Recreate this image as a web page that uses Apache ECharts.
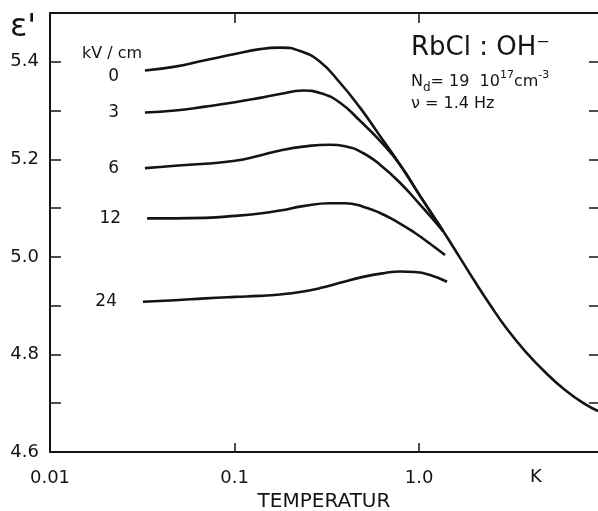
<!DOCTYPE html>
<html><head><meta charset="utf-8">
<script src="https://cdn.jsdelivr.net/npm/echarts@6/dist/echarts.min.js"></script>
<style>html,body{margin:0;padding:0;background:#fff}#c{width:598px;height:511px}</style>
</head><body><div id="c"></div>
<script>
// Field strengths (kV/cm)
const fieldLabels = ['0', '3', '6', '12', '24'];
// Temperature (K) and epsilon' per curve
const t0 = [0.0327, 0.0476, 0.0692, 0.1006, 0.1375, 0.1765, 0.2265, 0.2907, 0.3731, 0.4788, 0.6145, 0.7888, 1.013, 1.350, 1.668, 2.011, 2.425, 2.999, 3.753, 4.819, 6.185, 7.939, 9.338];
const v0 = [5.382, 5.390, 5.403, 5.416, 5.426, 5.429, 5.422, 5.400, 5.357, 5.306, 5.248, 5.189, 5.125, 5.053, 4.998, 4.949, 4.902, 4.852, 4.807, 4.764, 4.727, 4.698, 4.684];
const t3 = [0.0327, 0.0476, 0.0692, 0.1006, 0.1375, 0.1765, 0.2350, 0.2907, 0.3731, 0.4788, 0.6145, 0.7888, 1.013, 1.350];
const v3 = [5.296, 5.300, 5.308, 5.317, 5.326, 5.334, 5.341, 5.336, 5.316, 5.279, 5.238, 5.189, 5.125, 5.053];
const t6 = [0.0327, 0.0476, 0.0692, 0.1006, 0.1375, 0.1765, 0.2350, 0.3293, 0.3970, 0.4972, 0.6145, 0.7888, 1.013, 1.350];
const v6 = [5.182, 5.187, 5.191, 5.197, 5.208, 5.218, 5.226, 5.230, 5.227, 5.213, 5.189, 5.152, 5.107, 5.053];
const t12 = [0.0336, 0.0476, 0.0692, 0.1006, 0.1375, 0.1765, 0.2350, 0.3293, 0.3970, 0.4972, 0.6145, 0.7600, 0.9513, 1.147, 1.383];
const v12 = [5.079, 5.079, 5.080, 5.084, 5.089, 5.095, 5.104, 5.110, 5.110, 5.103, 5.090, 5.072, 5.049, 5.027, 5.004];
const t24 = [0.0319, 0.0476, 0.0692, 0.1006, 0.1375, 0.1765, 0.2265, 0.2907, 0.3731, 0.4972, 0.6543, 0.7888, 0.9513, 1.147, 1.418];
const v24 = [4.908, 4.911, 4.915, 4.918, 4.920, 4.923, 4.928, 4.936, 4.947, 4.959, 4.967, 4.970, 4.969, 4.963, 4.949];
// Axis ticks and tick labels
const xTickValues = [0.1, 1];
const xLabelValues = [0.01, 0.1, 1];
const xTickLabels = { '0.01': '0.01', '0.1': '0.1', '1': '1.0' };
const yTickLabels = ['4.6', '4.8', '5.0', '5.2', '5.4'];

const curves = [[t0, v0], [t3, v3], [t6, v6], [t12, v12], [t24, v24]];
const labelOffsets = [[0, 6], [0, 0], [0, 0], [0, 0], [0, 0]];
const FONT = 'DejaVu Sans';
const INK = '#141414';

const series = curves.map(([ts, vs], k) => ({
  type: 'line',
  name: fieldLabels[k],
  smooth: 0.5,
  symbol: 'circle',
  symbolSize: 0,
  showSymbol: true,
  silent: true,
  lineStyle: { color: INK, width: 2.6 },
  itemStyle: { color: INK },
  emphasis: { disabled: true },
  data: ts.map((t, i) => i === 0 ? {
    value: [t, vs[i]],
    label: { show: true, position: 'left', distance: 26, offset: labelOffsets[k],
      formatter: fieldLabels[k], color: INK, fontSize: 17, fontFamily: FONT }
  } : [t, vs[i]])
}));

const axisLine = { show: true, lineStyle: { color: INK, width: 2 } };
const chart = echarts.init(document.getElementById('c'), null, { renderer: 'canvas' });
chart.setOption({
  animation: false,
  backgroundColor: '#fff',
  grid: { left: 50, right: 0, top: 13, bottom: 59, containLabel: false, outerBoundsMode: 'none' },
  xAxis: [{
    type: 'log', logBase: 10, min: 0.01, max: 9.33, position: 'bottom',
    axisLine: axisLine,
    axisTick: { show: true, inside: true, length: 9, customValues: xTickValues, lineStyle: { color: INK, width: 1.5 } },
    axisLabel: { margin: 17, color: INK, fontSize: 18, fontFamily: FONT, customValues: xLabelValues,
      formatter: v => xTickLabels[String(+(+v).toPrecision(3))] || '' },
    splitLine: { show: false },
    name: 'TEMPERATUR', nameLocation: 'middle', nameGap: 40,
    nameTextStyle: { color: INK, fontSize: 20, fontFamily: FONT }
  }, {
    type: 'log', logBase: 10, min: 0.01, max: 9.33, position: 'top',
    axisLine: axisLine,
    axisTick: { show: true, inside: true, length: 10, customValues: xTickValues, lineStyle: { color: INK, width: 1.5 } },
    axisLabel: { show: false },
    splitLine: { show: false }
  }],
  yAxis: [{
    type: 'value', min: 4.6, max: 5.5, interval: 0.1, position: 'left',
    axisLine: axisLine,
    axisTick: { show: true, inside: true, length: 11, lineStyle: { color: INK, width: 1.5 } },
    axisLabel: { margin: 11, color: INK, fontSize: 18, fontFamily: FONT,
      formatter: v => { const s = (+v).toFixed(1); return yTickLabels.includes(s) ? s : ''; } },
    splitLine: { show: false }
  }, {
    type: 'value', min: 4.6, max: 5.5, interval: 0.1, position: 'right',
    axisLine: { show: false },
    axisTick: { show: true, inside: true, length: 9, lineStyle: { color: INK, width: 1.5 } },
    axisLabel: { show: false },
    splitLine: { show: false }
  }],
  graphic: [
    { type: 'text', left: 10, top: 12, style: { text: "ε'", fontSize: 32, fontFamily: FONT, fill: INK } },
    { type: 'text', left: 82, top: 46, style: { text: 'kV / cm', fontSize: 16, fontFamily: FONT, fill: INK } },
    { type: 'text', left: 530, top: 468, style: { text: 'K', fontSize: 18, fontFamily: FONT, fill: INK } },
    { type: 'text', left: 411, top: 35, style: { text: 'RbCl : OH⁻', fontSize: 26, fontFamily: FONT, fill: INK } },
    { type: 'text', left: 411, top: 70, style: {
      text: '{a|N}{s|d}{a|= 19  10}{p|17}{a|cm}{p|-3}',
      fill: INK, fontFamily: FONT,
      rich: {
        a: { fontSize: 16, fontFamily: FONT, fill: INK, lineHeight: 24, verticalAlign: 'middle' },
        s: { fontSize: 12, fontFamily: FONT, fill: INK, lineHeight: 24, verticalAlign: 'bottom' },
        p: { fontSize: 11, fontFamily: FONT, fill: INK, lineHeight: 24, verticalAlign: 'top' }
      } } },
    { type: 'text', left: 411, top: 96, style: { text: 'ν = 1.4 Hz', fontSize: 16, fontFamily: FONT, fill: INK } }
  ],
  series: series
});
</script></body></html>
